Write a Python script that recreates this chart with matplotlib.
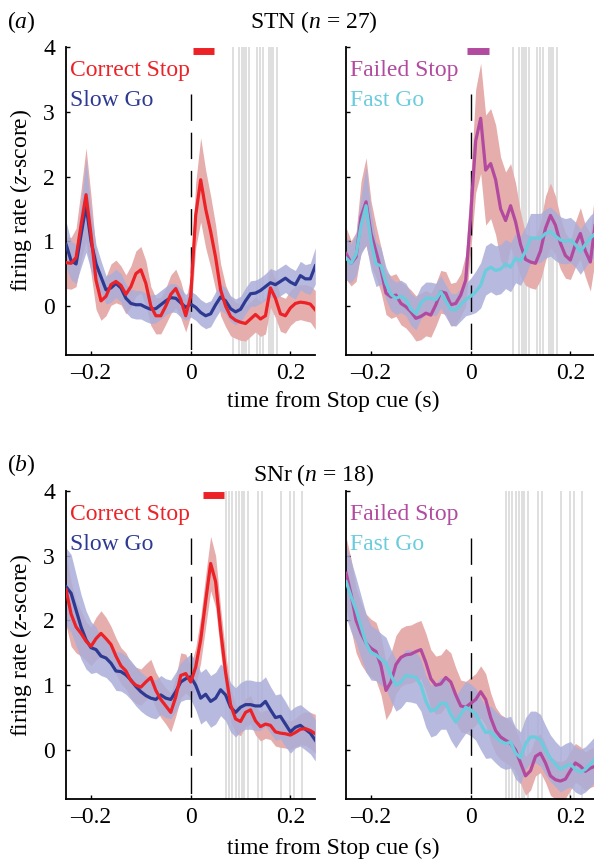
import numpy as np
import matplotlib
matplotlib.use("Agg")
import matplotlib.pyplot as plt

plt.rcParams['font.family'] = ['Liberation Serif', 'DejaVu Serif']
plt.rcParams['mathtext.fontset'] = 'custom'
plt.rcParams['mathtext.rm'] = 'Liberation Serif'
plt.rcParams['mathtext.it'] = 'Liberation Serif:italic'

# time axis (s), 10 ms bins
t = np.round(np.arange(-0.25, 0.2501, 0.01), 2)

# STN (n = 27), z-scored firing rate and s.e.m.
stn_correct_stop = [0.67, 0.66, 0.75, 1.25, 1.72, 1.10, 0.40, 0.08, 0.15, 0.33,
                    0.38, 0.32, 0.18, 0.30, 0.50, 0.56, 0.35, 0.00, -0.15, -0.15,
                    0.00, 0.18, 0.27, 0.10, -0.15, 0.15, 1.40, 1.95, 1.50, 1.15,
                    0.75, 0.25, 0.00, -0.16, -0.22, -0.25, -0.27, -0.20, -0.13, -0.20,
                    -0.15, 0.28, 0.12, -0.12, -0.15, -0.03, 0.04, 0.06, 0.05, 0.03,
                    -0.06]
stn_correct_stop_sem = [0.40, 0.40, 0.45, 0.55, 0.72, 0.60, 0.45, 0.30, 0.30, 0.32,
                        0.33, 0.30, 0.30, 0.32, 0.35, 0.36, 0.35, 0.30, 0.28, 0.28,
                        0.28, 0.30, 0.30, 0.28, 0.25, 0.30, 0.50, 0.65, 0.60, 0.55,
                        0.50, 0.40, 0.32, 0.30, 0.28, 0.28, 0.27, 0.27, 0.27, 0.27,
                        0.28, 0.30, 0.30, 0.27, 0.27, 0.27, 0.27, 0.27, 0.28, 0.28,
                        0.30]
stn_slow_go = [0.95, 0.70, 0.65, 1.10, 1.55, 1.00, 0.65, 0.45, 0.25, 0.28,
               0.35, 0.28, 0.12, 0.04, 0.02, 0.02, -0.02, -0.05, -0.04, 0.02,
               0.08, 0.13, 0.12, 0.05, -0.02, 0.03, -0.02, -0.10, -0.15, -0.12,
               0.02, 0.14, 0.08, -0.04, -0.09, -0.05, 0.08, 0.19, 0.20, 0.24,
               0.30, 0.36, 0.33, 0.38, 0.43, 0.37, 0.33, 0.47, 0.42, 0.42,
               0.62]
stn_slow_go_sem = [0.35, 0.30, 0.30, 0.50, 0.72, 0.45, 0.30, 0.25, 0.22, 0.22,
                   0.22, 0.22, 0.22, 0.22, 0.22, 0.22, 0.22, 0.22, 0.22, 0.22,
                   0.22, 0.22, 0.22, 0.22, 0.20, 0.20, 0.20, 0.20, 0.20, 0.20,
                   0.20, 0.20, 0.20, 0.20, 0.20, 0.20, 0.20, 0.20, 0.20, 0.20,
                   0.20, 0.22, 0.22, 0.22, 0.22, 0.22, 0.22, 0.22, 0.22, 0.24,
                   0.28]
stn_failed_stop = [0.81, 0.66, 0.76, 1.38, 1.61, 1.12, 0.84, 0.56, 0.20, 0.14,
                   0.17, 0.04, -0.01, -0.09, -0.19, -0.16, -0.11, -0.14, 0.02, 0.22,
                   0.20, 0.02, 0.04, 0.17, 0.40, 1.40, 2.55, 2.90, 2.10, 2.20,
                   1.95, 1.50, 1.32, 1.55, 1.30, 0.95, 0.72, 0.68, 0.66, 0.85,
                   1.20, 1.40, 1.25, 0.97, 0.78, 0.71, 0.95, 1.12, 0.85, 0.68,
                   1.28]
stn_failed_stop_sem = [0.40, 0.35, 0.38, 0.55, 0.68, 0.50, 0.40, 0.35, 0.33, 0.33,
                       0.33, 0.33, 0.33, 0.34, 0.35, 0.36, 0.35, 0.34, 0.33, 0.33,
                       0.33, 0.33, 0.33, 0.33, 0.40, 0.55, 0.80, 0.85, 0.85, 0.85,
                       0.85, 0.80, 0.75, 0.65, 0.60, 0.50, 0.40, 0.40, 0.40, 0.45,
                       0.50, 0.50, 0.45, 0.40, 0.35, 0.30, 0.35, 0.40, 0.40, 0.45,
                       0.55]
stn_fast_go = [0.74, 0.66, 0.80, 1.25, 1.55, 1.00, 0.65, 0.62, 0.35, 0.18,
               0.12, 0.15, 0.10, -0.05, -0.12, 0.05, 0.12, 0.12, 0.10, 0.22,
               0.08, -0.05, -0.06, 0.02, 0.10, 0.15, 0.22, 0.32, 0.55, 0.60,
               0.55, 0.57, 0.65, 0.60, 0.74, 0.70, 0.85, 1.05, 1.05, 1.05,
               1.12, 1.15, 1.08, 1.02, 1.00, 1.02, 0.95, 0.84, 0.95, 1.05,
               1.12]
stn_fast_go_sem = [0.33, 0.30, 0.33, 0.45, 0.60, 0.45, 0.35, 0.28, 0.25, 0.25,
                   0.25, 0.25, 0.25, 0.25, 0.25, 0.25, 0.25, 0.25, 0.25, 0.25,
                   0.25, 0.25, 0.25, 0.25, 0.25, 0.28, 0.32, 0.35, 0.38, 0.38,
                   0.38, 0.38, 0.38, 0.38, 0.38, 0.38, 0.38, 0.38, 0.38, 0.38,
                   0.38, 0.38, 0.38, 0.36, 0.35, 0.35, 0.35, 0.35, 0.35, 0.35,
                   0.35]

# SNr (n = 18)
snr_correct_stop = [2.47, 2.10, 1.90, 1.80, 1.68, 1.60, 1.72, 1.80, 1.72, 1.63,
                    1.45, 1.30, 1.22, 1.07, 1.00, 0.97, 1.05, 1.12, 0.92, 0.78,
                    0.68, 0.58, 0.82, 1.15, 1.18, 1.05, 1.28, 1.70, 2.30, 2.88,
                    2.60, 1.85, 1.20, 0.70, 0.48, 0.44, 0.58, 0.62, 0.45, 0.36,
                    0.40, 0.38, 0.28, 0.26, 0.25, 0.23, 0.27, 0.32, 0.33, 0.30,
                    0.25]
snr_correct_stop_sem = [0.55, 0.50, 0.40, 0.35, 0.30, 0.30, 0.33, 0.35, 0.33, 0.28,
                        0.28, 0.28, 0.28, 0.28, 0.28, 0.28, 0.28, 0.28, 0.28, 0.28,
                        0.28, 0.30, 0.30, 0.35, 0.30, 0.25, 0.30, 0.35, 0.40, 0.42,
                        0.40, 0.35, 0.30, 0.25, 0.22, 0.22, 0.22, 0.22, 0.22, 0.22,
                        0.22, 0.22, 0.22, 0.22, 0.22, 0.22, 0.22, 0.24, 0.26, 0.28,
                        0.30]
snr_slow_go = [2.52, 2.42, 2.16, 1.90, 1.70, 1.58, 1.55, 1.45, 1.42, 1.34,
               1.22, 1.21, 1.16, 1.08, 0.98, 0.90, 0.84, 0.80, 0.78, 0.85,
               0.80, 0.78, 0.90, 1.05, 1.10, 1.13, 1.00, 0.80, 0.86, 0.75,
               0.80, 0.93, 0.85, 0.66, 0.58, 0.66, 0.70, 0.70, 0.68, 0.68,
               0.75, 0.62, 0.50, 0.52, 0.40, 0.28, 0.35, 0.38, 0.32, 0.26,
               0.15]
snr_slow_go_sem = [0.60, 0.60, 0.55, 0.50, 0.45, 0.40, 0.35, 0.30, 0.30, 0.30,
                   0.30, 0.30, 0.30, 0.30, 0.30, 0.30, 0.30, 0.30, 0.30, 0.30,
                   0.30, 0.30, 0.30, 0.30, 0.32, 0.35, 0.38, 0.40, 0.40, 0.40,
                   0.40, 0.40, 0.40, 0.38, 0.38, 0.38, 0.38, 0.38, 0.38, 0.38,
                   0.38, 0.36, 0.35, 0.35, 0.35, 0.33, 0.32, 0.32, 0.32, 0.32,
                   0.32]
snr_failed_stop = [2.73, 2.40, 2.00, 1.80, 1.65, 1.57, 1.52, 1.30, 0.92, 1.05,
                   1.32, 1.43, 1.47, 1.48, 1.52, 1.55, 1.35, 1.10, 1.00, 1.02,
                   1.12, 1.05, 0.85, 0.68, 0.66, 0.72, 0.78, 0.90, 0.78, 0.50,
                   0.30, 0.20, 0.15, 0.10, 0.00, -0.20, -0.40, -0.32, -0.10, -0.05,
                   -0.20, -0.40, -0.46, -0.48, -0.45, -0.32, -0.20, -0.25, -0.33, -0.28,
                   -0.25]
snr_failed_stop_sem = [0.55, 0.55, 0.50, 0.48, 0.45, 0.45, 0.45, 0.45, 0.45, 0.45,
                       0.45, 0.45, 0.45, 0.45, 0.45, 0.45, 0.45, 0.45, 0.45, 0.45,
                       0.45, 0.45, 0.42, 0.40, 0.40, 0.40, 0.40, 0.40, 0.40, 0.38,
                       0.36, 0.35, 0.35, 0.35, 0.33, 0.32, 0.30, 0.30, 0.30, 0.30,
                       0.30, 0.30, 0.30, 0.30, 0.30, 0.30, 0.30, 0.30, 0.30, 0.30,
                       0.30]
snr_fast_go = [2.60, 2.37, 2.16, 1.90, 1.65, 1.50, 1.47, 1.40, 1.34, 1.15,
               1.00, 1.05, 1.15, 1.14, 1.12, 1.00, 0.75, 0.60, 0.63, 0.72,
               0.72, 0.55, 0.43, 0.55, 0.66, 0.62, 0.55, 0.40, 0.27, 0.28,
               0.20, 0.13, 0.10, 0.12, -0.05, -0.12, 0.10, 0.20, 0.20, 0.15,
               0.00, -0.13, -0.22, -0.30, -0.25, -0.22, -0.30, -0.34, -0.30, -0.22,
               -0.13]
snr_fast_go_sem = [0.55, 0.55, 0.50, 0.48, 0.45, 0.42, 0.40, 0.40, 0.40, 0.40,
                   0.40, 0.40, 0.40, 0.40, 0.40, 0.40, 0.40, 0.40, 0.40, 0.40,
                   0.40, 0.40, 0.40, 0.40, 0.40, 0.40, 0.40, 0.40, 0.40, 0.40,
                   0.40, 0.40, 0.40, 0.40, 0.40, 0.40, 0.40, 0.40, 0.40, 0.40,
                   0.38, 0.36, 0.35, 0.35, 0.35, 0.35, 0.35, 0.35, 0.35, 0.35,
                   0.35]

# per-session stop-signal reaction times (s), grey lines
stn_ssrt = [0.084, 0.097, 0.103, 0.107, 0.111, 0.117, 0.134, 0.140, 0.145,
            0.157, 0.162, 0.166, 0.173]
snr_ssrt = [0.070, 0.077, 0.083, 0.090, 0.097, 0.103, 0.107, 0.115, 0.136,
            0.143, 0.181, 0.200, 0.208, 0.223]

# significance bars (start, end) in s
stn_correct_bar = (0.005, 0.047)
stn_failed_bar = (-0.007, 0.037)
snr_correct_bar = (0.025, 0.067)

RED = '#ec2227'
BLUE = '#2e3a92'
MAGENTA = '#b24a9f'
CYAN = '#6accdc'
PINK = '#e6adad'
LAVENDER = '#abaed9'
GREY = '#d6d6d6'
FS = 17


def panel(ax, stop, stop_sem, go, go_sem, stop_col, go_col, names,
          ssrt, bar, show_yticks, go_on_top):
    stop, stop_sem = np.array(stop), np.array(stop_sem)
    go, go_sem = np.array(go), np.array(go_sem)
    for s in ssrt:
        ax.axvline(s, color=GREY, lw=1.1, zorder=0)
    ax.fill_between(t, stop - stop_sem, stop + stop_sem, color=PINK, lw=0, zorder=1)
    ax.fill_between(t, go - go_sem, go + go_sem, color=LAVENDER, alpha=0.85, lw=0, zorder=2)
    ax.plot([0, 0], [3.28, -0.75], color='k', lw=1.0, dashes=(19, 8.5), zorder=3)
    zs, zg = (4, 5) if go_on_top else (5, 4)
    ax.plot(t, stop, color=stop_col, lw=2.3, zorder=zs)
    ax.plot(t, go, color=go_col, lw=2.3, zorder=zg)
    if bar is not None:
        ax.plot(bar, [3.945, 3.945], color=stop_col, lw=5, solid_capstyle='butt',
                clip_on=False, zorder=6)
    ax.text(-0.243, 3.55, names[0], color=stop_col, fontsize=FS, va='baseline')
    ax.text(-0.243, 3.09, names[1], color=go_col, fontsize=FS, va='baseline')

    ax.set_xlim(-0.25, 0.25)
    ax.set_ylim(-0.75, 4)
    ax.set_xticks([-0.2, 0, 0.2])
    ax.set_xticklabels(['\u20130.2', '0', '0.2'])
    ax.set_yticks([0, 1, 2, 3, 4])
    if show_yticks:
        ax.set_yticklabels(['0', '1', '2', '3', '4'])
    else:
        ax.set_yticklabels([])
    for side in ['top', 'right']:
        ax.spines[side].set_visible(False)
    for side in ['left', 'bottom']:
        ax.spines[side].set_linewidth(1.3)
    ax.tick_params(direction='in', length=3, width=1, labelsize=FS)
    ax.tick_params(axis='y', pad=8)
    ax.tick_params(axis='x', pad=6)


fig = plt.figure(figsize=(5.94, 8.63), dpi=100)
W, H = 0.4195, 0.3564
ax1 = fig.add_axes([0.1113, 0.5891, W, H])
ax2 = fig.add_axes([0.5827, 0.5891, W, H])
ax3 = fig.add_axes([0.1113, 0.0747, W, H])
ax4 = fig.add_axes([0.5827, 0.0747, W, H])

panel(ax1, stn_correct_stop, stn_correct_stop_sem, stn_slow_go, stn_slow_go_sem,
      RED, BLUE, ['Correct Stop', 'Slow Go'], stn_ssrt, stn_correct_bar, True, False)
panel(ax2, stn_failed_stop, stn_failed_stop_sem, stn_fast_go, stn_fast_go_sem,
      MAGENTA, CYAN, ['Failed Stop', 'Fast Go'], stn_ssrt, stn_failed_bar, False, True)
panel(ax3, snr_correct_stop, snr_correct_stop_sem, snr_slow_go, snr_slow_go_sem,
      RED, BLUE, ['Correct Stop', 'Slow Go'], snr_ssrt, snr_correct_bar, True, False)
panel(ax4, snr_failed_stop, snr_failed_stop_sem, snr_fast_go, snr_fast_go_sem,
      MAGENTA, CYAN, ['Failed Stop', 'Fast Go'], snr_ssrt, None, False, True)

# panel letters, titles and shared labels
fig.text(7 / 594, 1 - 28 / 863, '($a$)', fontsize=FS, va='baseline')
fig.text(314 / 594, 1 - 28 / 863, 'STN ($n$ = 27)', fontsize=FS, va='baseline', ha='center')
fig.text(7 / 594, 1 - 471 / 863, '($b$)', fontsize=FS, va='baseline')
fig.text(314 / 594, 1 - 481 / 863, 'SNr ($n$ = 18)', fontsize=FS, va='baseline', ha='center')
for yb in [407, 854]:
    fig.text(333 / 594, 1 - yb / 863, 'time from Stop cue (s)', fontsize=FS,
             va='baseline', ha='center')
for yc in [200.5, 645]:
    fig.text(21 / 594, 1 - yc / 863, 'firing rate ($z$-score)', fontsize=FS,
             rotation=90, va='center', ha='center')

fig.savefig('out.png', dpi=100)
